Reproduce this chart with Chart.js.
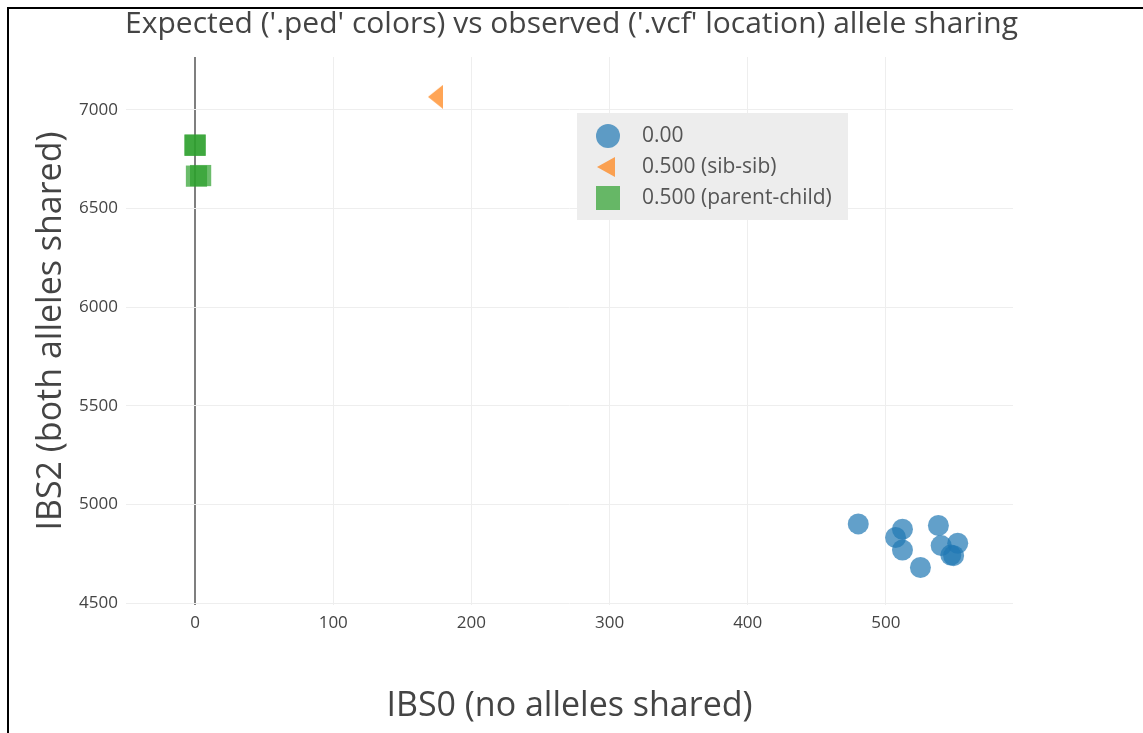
<!DOCTYPE html>
<html>
<head>
<meta charset="utf-8">
<title>IBS0 vs IBS2</title>
<script src="https://cdn.jsdelivr.net/npm/chart.js@4.4.0/dist/chart.umd.min.js"></script>
<style>
    html, body { margin: 0; padding: 0; background: #fff; overflow: hidden; }
    #wrap { position: relative; width: 1143px; height: 733px; }
    #wrap canvas { position: absolute; left: 0; top: 0; }
    #frame {
        position: absolute; left: 7px; top: 7px; width: 1160px; height: 760px;
        border-top: 2px solid #000; border-left: 2px solid #000; pointer-events: none;
    }
</style>
</head>
<body>
<div id="wrap">
    <canvas id="ibsChart" width="1143" height="733"></canvas>
    <div id="frame"></div>
</div>
<script>
// values
const seriesLabels = ['0.00', '0.500 (sib-sib)', '0.500 (parent-child)'];

const unrelatedIbs0 = [480, 512, 507, 512, 538, 525, 540, 552, 547, 549];
const unrelatedIbs2 = [4901, 4874, 4832, 4769, 4893, 4680, 4791, 4803, 4743, 4740];

const sibIbs0 = [174];
const sibIbs2 = [7066];

const parentIbs0 = [0, 0, 1, 4];
const parentIbs2 = [6822, 6820, 6664, 6667];

const xTicks = [0, 100, 200, 300, 400, 500];
const yTicks = [4500, 5000, 5500, 6000, 6500, 7000];

const blue = 'rgba(31,119,180,0.7)';
const orange = 'rgba(255,127,14,0.7)';
const green = 'rgba(44,160,44,0.7)';
const fontFamily = "'Open Sans', 'DejaVu Sans', sans-serif";

function toPoints(xs, ys) {
    return xs.map((x, i) => ({ x: x, y: ys[i] }));
}

// left pointing triangle, narrower than chart.js' own
function triangleLeft(w, h, color) {
    const c = document.createElement('canvas');
    c.width = w; c.height = h;
    const g = c.getContext('2d');
    g.fillStyle = color;
    g.beginPath();
    g.moveTo(0, h / 2);
    g.lineTo(w, 0);
    g.lineTo(w, h);
    g.closePath();
    g.fill();
    return c;
}

const triMarker = triangleLeft(15, 24, orange);
const triLegend = triangleLeft(18, 20, orange);

// legend drawn inside the plot like the original
const insideLegend = {
    id: 'insideLegend',
    afterDraw(chart) {
        const { ctx, chartArea: a } = chart;
        const x = Math.round(a.left + 0.5085 * (a.right - a.left));
        const y = Math.round(a.top + 0.102 * (a.bottom - a.top));
        ctx.save();
        ctx.fillStyle = '#ededed';
        ctx.fillRect(x, y, 271, 107);
        ctx.font = '21px ' + fontFamily;
        ctx.textBaseline = 'middle';
        chart.data.datasets.forEach((ds, i) => {
            const cy = y + 23 + i * 31;
            const cx = x + 31;
            ctx.fillStyle = ds.backgroundColor;
            if (i === 0) {
                ctx.beginPath();
                ctx.arc(cx, cy, 12, 0, Math.PI * 2);
                ctx.fill();
            } else if (i === 1) {
                ctx.drawImage(triLegend, cx - 11, cy - 10);
            } else {
                ctx.fillRect(cx - 12, cy - 12, 24, 24);
            }
            ctx.fillStyle = '#555';
            ctx.fillText(ds.label, x + 65, cy);
        });
        ctx.restore();
    }
};

const ctx = document.getElementById('ibsChart');

new Chart(ctx, {
    type: 'scatter',
    data: {
        datasets: [{
            label: seriesLabels[0],
            data: toPoints(unrelatedIbs0, unrelatedIbs2),
            backgroundColor: blue,
            borderWidth: 0,
            pointStyle: 'circle',
            pointRadius: 10.5,
            pointHoverRadius: 10.5
        }, {
            label: seriesLabels[1],
            data: toPoints(sibIbs0, sibIbs2),
            backgroundColor: orange,
            borderWidth: 0,
            pointStyle: triMarker
        }, {
            label: seriesLabels[2],
            data: toPoints(parentIbs0, parentIbs2),
            backgroundColor: green,
            borderWidth: 0,
            pointStyle: 'rect',
            pointRadius: 15,
            pointHoverRadius: 15
        }]
    },
    options: {
        responsive: false,
        animation: false,
        layout: { padding: 0 },
        plugins: {
            legend: { display: false },
            tooltip: { enabled: false },
            title: {
                display: true,
                text: "Expected ('.ped' colors) vs observed ('.vcf' location) allele sharing",
                color: '#444',
                font: { family: fontFamily, size: 30, weight: 'normal' },
                padding: { top: 6, bottom: 15 }
            }
        },
        scales: {
            x: {
                type: 'linear',
                min: -50,
                max: 592,
                afterBuildTicks: s => { s.ticks = xTicks.map(v => ({ value: v })); },
                afterFit: s => { s.height = 128; },
                ticks: {
                    color: '#444',
                    padding: 8,
                    font: { family: fontFamily, size: 17 },
                    callback: v => String(v)
                },
                grid: {
                    drawTicks: false,
                    color: c => c.tick && c.tick.value === 0 ? '#7f7f7f' : '#eeeeee',
                    lineWidth: c => c.tick && c.tick.value === 0 ? 2 : 1
                },
                border: { display: false },
                title: {
                    display: true,
                    text: 'IBS0 (no alleles shared)',
                    color: '#444',
                    font: { family: fontFamily, size: 34 },
                    padding: { top: 0, bottom: 6 }
                }
            },
            y: {
                type: 'linear',
                min: 4490,
                max: 7268,
                afterBuildTicks: s => { s.ticks = yTicks.map(v => ({ value: v })); },
                afterFit: s => { s.width = 126; },
                ticks: {
                    color: '#444',
                    padding: 8,
                    font: { family: fontFamily, size: 17 },
                    callback: v => String(v)
                },
                grid: { drawTicks: false, color: '#eeeeee' },
                border: { display: false },
                title: {
                    display: true,
                    text: 'IBS2 (both alleles shared)',
                    color: '#444',
                    font: { family: fontFamily, size: 34 },
                    padding: { top: 31, bottom: 0 }
                }
            },
            // empty axis that only reserves the right margin
            spacer: {
                type: 'linear',
                position: 'right',
                afterFit: s => { s.width = 130; },
                ticks: { display: false },
                grid: { display: false },
                border: { display: false }
            }
        }
    },
    plugins: [insideLegend]
});
</script>
</body>
</html>
